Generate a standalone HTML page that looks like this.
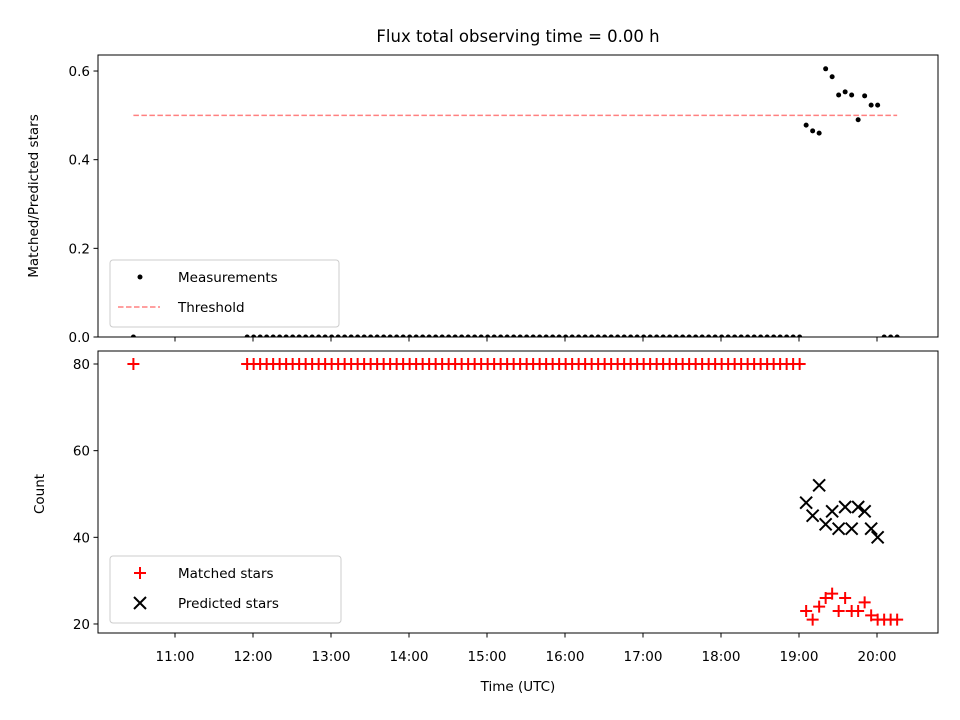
<!DOCTYPE html>
<html><head><meta charset="utf-8"><style>
body{margin:0;background:#fff}
svg{display:block;font-family:"DejaVu Sans","Liberation Sans",sans-serif}
</style></head><body>
<svg id="chart" width="960" height="720" viewBox="0 0 960 720">
<rect width="960" height="720" fill="#fff"/>
<text x="518" y="42" font-size="16.5" text-anchor="middle">Flux total observing time = 0.00 h</text>
<g id="topPanel"></g>
<g id="botPanel"></g>
<text x="518" y="691" font-size="13.5" text-anchor="middle">Time (UTC)</text>
<text transform="translate(38,196) rotate(-90)" font-size="13.5" text-anchor="middle">Matched/Predicted stars</text>
<text transform="translate(44,494) rotate(-90)" font-size="13.5" text-anchor="middle">Count</text>
</svg>
<script>
// data: times in hours (UTC)
const loneTime = 10 + 28/60;
const startTime = 11 + 55.5/60;
const stepMin = 5;
const nPoints = 101;
const dataStartIndex = 86;
const ratioValues = [0.478,0.465,0.46,0.605,0.587,0.546,0.553,0.546,0.49,0.544,0.523,0.523];
const matchedValues = [23,21,24,26,27,23,26,23,23,25,22,21];
const predictedValues = [48,45,52,43,46,42,47,42,47,46,42,40];
const baseMatched = 80;
const tailMatched = [21,21,21];
const threshold = 0.5;
const xTicks = [11,12,13,14,15,16,17,18,19,20];
const topTicks = [0,0.2,0.4,0.6];
const botTicks = [20,40,60,80];

const NS='http://www.w3.org/2000/svg';
const L=98,R=938;
const xs=h=>175+(h-11)*78;
const yTop=v=>337-v*443.3;
const yBot=v=>364+(80-v)*4.333;
function mk(tag,attrs,parent){const e=document.createElementNS(NS,tag);for(const k in attrs)e.setAttribute(k,attrs[k]);parent.appendChild(e);return e;}

const times=[];for(let i=0;i<nPoints;i++)times.push(startTime+i*stepMin/60);
const allTimes=[loneTime].concat(times);
const ratios=[0];const matched=[baseMatched];
for(let i=0;i<nPoints;i++){
  if(i<dataStartIndex){ratios.push(0);matched.push(baseMatched);}
  else if(i<dataStartIndex+ratioValues.length){ratios.push(ratioValues[i-dataStartIndex]);matched.push(matchedValues[i-dataStartIndex]);}
  else{ratios.push(0);matched.push(tailMatched[i-dataStartIndex-ratioValues.length]);}
}

const topG=document.getElementById('topPanel'),botG=document.getElementById('botPanel');
function frame(g,y0,y1,name){
  const r=mk('rect',{x:L,y:y0,width:R-L,height:y1-y0,fill:'none',stroke:'#000','stroke-width':1},g);
  
  
  xTicks.forEach(h=>{const t=mk('line',{x1:xs(h),x2:xs(h),y1:y1,y2:y1+4.5,stroke:'#000'},g);
    
    });
}
const defs=mk('defs',{},document.getElementById('chart'));
const cp=mk('clipPath',{id:'ct'},defs);mk('rect',{x:L,y:55,width:R-L,height:282},cp);
const tc=mk('g',{'clip-path':'url(#ct)'},topG);
const th=mk('line',{x1:xs(loneTime),x2:xs(times[nPoints-1]),y1:yTop(threshold),y2:yTop(threshold),stroke:'#ff8080','stroke-width':1.5,'stroke-dasharray':'5.5,2.5'},tc);


allTimes.forEach((t,i)=>{const c=mk('circle',{cx:xs(t),cy:yTop(ratios[i]),r:2.5,fill:'#000'},tc);
  
  });
frame(topG,55,337,'top-axes-frame');
topTicks.forEach(v=>{mk('line',{x1:L-4.5,x2:L,y1:yTop(v),y2:yTop(v),stroke:'#000'},topG);
  const t=mk('text',{x:L-8,y:yTop(v)+5,'font-size':13.5,'text-anchor':'end'},topG);t.textContent=v.toFixed(1);
  
  });
function plus(x,y,g){return mk('path',{d:`M${x-6},${y}H${x+6}M${x},${y-6}V${y+6}`,stroke:'#f00','stroke-width':2},g);}
function cross(x,y,g){return mk('path',{d:`M${x-6},${y-6}L${x+6},${y+6}M${x-6},${y+6}L${x+6},${y-6}`,stroke:'#000','stroke-width':2},g);}
allTimes.forEach((t,i)=>{const p=plus(xs(t),yBot(matched[i]),botG);
  
  });
predictedValues.forEach((v,i)=>{const p=cross(xs(times[dataStartIndex+i]),yBot(v),botG);
  
  });
frame(botG,351,633,'bottom-axes-frame');
botTicks.forEach(v=>{mk('line',{x1:L-4.5,x2:L,y1:yBot(v),y2:yBot(v),stroke:'#000'},botG);
  const t=mk('text',{x:L-8,y:yBot(v)+5,'font-size':13.5,'text-anchor':'end'},botG);t.textContent=v;
  
  });
xTicks.forEach(h=>{const t=mk('text',{x:xs(h),y:661,'font-size':13.5,'text-anchor':'middle'},botG);t.textContent=h+':00';
  
  });
function legend(g,y,w,items,name){
  const lg=mk('g',{},g);
  
  
  mk('rect',{x:110,y:y,width:w,height:67,rx:3,fill:'#fff','fill-opacity':0.8,stroke:'#ccc'},lg);
  items.forEach((it,i)=>{const cy=y+17+i*30;it.draw(140,cy,lg);
    const t=mk('text',{x:178,y:cy+5,'font-size':13.5},lg);t.textContent=it.label;
    
    });
}
legend(topG,260,229,[
  {label:'Measurements',draw:(x,y,g)=>mk('circle',{cx:x,cy:y,r:2.5,fill:'#000'},g)},
  {label:'Threshold',draw:(x,y,g)=>mk('line',{x1:x-22,x2:x+20,y1:y,y2:y,stroke:'#ff8080','stroke-width':1.5,'stroke-dasharray':'5.5,2.5'},g)}
],'top-legend');
legend(botG,556,231,[
  {label:'Matched stars',draw:(x,y,g)=>plus(x,y,g)},
  {label:'Predicted stars',draw:(x,y,g)=>cross(x,y,g)}
],'bottom-legend');
</script>
</body></html>
